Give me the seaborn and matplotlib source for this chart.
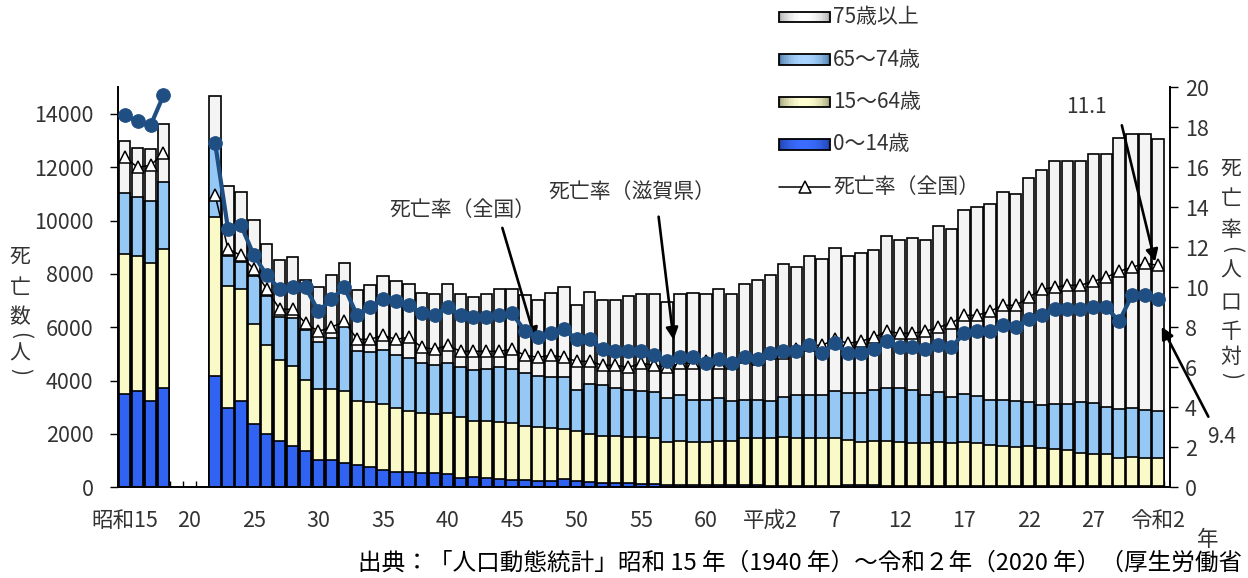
import matplotlib
matplotlib.use("Agg")
import matplotlib.pyplot as plt
import matplotlib.colors as mcolors
from matplotlib.patches import Rectangle
from matplotlib.lines import Line2D
import numpy as np
import pandas as pd
import seaborn as sns

# ---------------- data ----------------
years = [1940, 1941, 1942, 1943] + list(range(1947, 2021))

age_0_14 = [3480, 3620, 3240, 3710,
            4170, 2960, 3230, 2360, 1980, 1730, 1550, 1360, 1020, 1020, 920,
            840, 750, 650, 590, 560, 520, 520, 490, 340, 400, 340, 310, 270,
            270, 250, 250, 300, 250, 210, 170, 170, 150, 130, 110, 100, 100,
            100, 80, 100, 100, 80, 80, 50, 50, 50, 50, 50, 50, 80, 80, 80,
            40, 40, 40, 40, 40, 40, 40, 40, 40, 40, 40, 40, 40, 40, 40, 40,
            40, 40, 40, 40, 40, 40]
age_15_64 = [5280, 5050, 5170, 5220,
             5980, 4590, 4220, 3780, 3350, 3040, 2990, 2680, 2650, 2650, 2700,
             2410, 2460, 2460, 2370, 2310, 2250, 2230, 2280, 2280, 2100, 2160,
             2150, 2130, 2040, 2020, 1960, 1880, 1870, 1790, 1750, 1750, 1750,
             1740, 1720, 1610, 1630, 1610, 1630, 1630, 1630, 1750, 1750, 1780,
             1850, 1780, 1780, 1780, 1780, 1690, 1630, 1650, 1690, 1670, 1630,
             1630, 1670, 1630, 1650, 1630, 1540, 1510, 1480, 1510, 1440, 1390,
             1360, 1260, 1200, 1200, 1050, 1110, 1050, 1050]
age_65_74 = [2270, 2210, 2340, 2510,
             2650, 1110, 1000, 1770, 1830, 1620, 1820, 1850, 1780, 1930, 2460,
             1870, 1870, 2030, 1990, 1980, 1900, 1830, 1900, 1900, 1890, 1950,
             2060, 2050, 1960, 1900, 1930, 1960, 1520, 1870, 1910, 1820, 1740,
             1750, 1730, 1640, 1730, 1580, 1580, 1600, 1510, 1460, 1460, 1410,
             1490, 1630, 1630, 1630, 1790, 1750, 1810, 1910, 1980, 2000, 1970,
             1790, 1850, 1720, 1810, 1750, 1710, 1720, 1720, 1660, 1600, 1710,
             1740, 1910, 1930, 1780, 1830, 1810, 1810, 1780]
age_75_plus = [1970, 1850, 1940, 2190,
               1880, 2620, 2640, 2120, 1950, 2120, 2270, 1900, 2060, 2370, 2330,
               2270, 2520, 2770, 2780, 2760, 2620, 2680, 2940, 2720, 2750, 2810,
               2930, 3000, 2930, 2840, 3150, 3370, 3180, 3450, 3210, 3270, 3520,
               3640, 3680, 3600, 3780, 4000, 3950, 4120, 4020, 4320, 4500, 4710,
               4970, 4800, 5200, 5110, 5360, 5140, 5260, 5240, 5700, 5550, 5720,
               5820, 6220, 6290, 6880, 7080, 7340, 7800, 7740, 8390, 8820, 9090,
               9090, 9040, 9310, 9460, 10180, 10290, 10350, 10190]
rate_shiga = [18.6, 18.3, 18.1, 19.6,
              17.2, 12.9, 13.1, 11.6, 10.6, 9.9, 10.0, 10.0, 8.8, 9.4, 10.0,
              8.6, 9.0, 9.4, 9.3, 9.1, 8.7, 8.6, 9.0, 8.6, 8.5, 8.5, 8.6, 8.7,
              7.8, 7.5, 7.7, 7.9, 7.4, 7.4, 6.9, 6.8, 6.8, 6.8, 6.6, 6.3, 6.5,
              6.5, 6.2, 6.4, 6.2, 6.5, 6.4, 6.7, 6.8, 6.8, 7.1, 6.7, 7.2, 6.7,
              6.7, 6.9, 7.3, 7.0, 7.0, 6.9, 7.1, 7.0, 7.7, 7.8, 7.8, 8.1, 8.0,
              8.4, 8.6, 8.9, 8.9, 8.9, 9.0, 9.0, 8.3, 9.6, 9.6, 9.4]
rate_national = [16.5, 16.0, 16.1, 16.7,
                 14.6, 11.9, 11.6, 10.9, 9.9, 8.9, 8.9, 8.2, 7.8, 8.0, 8.3,
                 7.4, 7.4, 7.6, 7.4, 7.5, 7.0, 6.9, 7.1, 6.8, 6.8, 6.8, 6.8, 6.9,
                 6.6, 6.5, 6.6, 6.5, 6.3, 6.3, 6.1, 6.1, 6.0, 6.2, 6.1, 6.0, 6.2,
                 6.2, 6.3, 6.2, 6.2, 6.5, 6.4, 6.7, 6.7, 6.9, 7.1, 7.1, 7.4, 7.2,
                 7.3, 7.5, 7.8, 7.7, 7.7, 7.8, 8.0, 8.2, 8.6, 8.6, 8.8, 9.1, 9.1,
                 9.5, 9.9, 10.0, 10.1, 10.1, 10.3, 10.5, 10.8, 11.0, 11.2, 11.1]

tick_years = [1940, 1945, 1950, 1955, 1960, 1965, 1970, 1975, 1980, 1985,
              1990, 1995, 2000, 2005, 2010, 2015, 2020]
tick_labels = ["昭和15", "20", "25", "30", "35", "40", "45", "50", "55", "60",
               "平成2", "7", "12", "17", "22", "27", "令和2"]
legend_labels = ["75歳以上", "65～74歳", "15～64歳", "0～14歳", "死亡率（全国）"]

# ---------------- style ----------------
sns.set_theme(style="white")
plt.rcParams["font.family"] = ["Noto Sans CJK JP", "DejaVu Sans"]

W, H = 1248, 578
TXT = "#333333"
C0, C15, C65, C75 = "#3163F2", "#FAFAC8", "#96C8F5", "#F4F4F4"
SHIGA = "#1F4E82"

df = pd.DataFrame({
    "year": years,
    "a0": age_0_14, "a15": age_15_64, "a65": age_65_74, "a75": age_75_plus,
    "shiga": rate_shiga, "national": rate_national,
})
df["period"] = np.where(df["year"] < 1945, "pre", "post")
df["c1"] = df["a0"]
df["c2"] = df["c1"] + df["a15"]
df["c3"] = df["c2"] + df["a65"]
df["c4"] = df["c3"] + df["a75"]

fig = plt.figure(figsize=(W / 100, H / 100), dpi=100)
ax = fig.add_axes([118.3 / W, 1 - 487.3 / H, (1170 - 118.3) / W, 400 / H])

for col, color in [("c4", C75), ("c3", C65), ("c2", C15), ("c1", C0)]:
    sns.barplot(data=df, x="year", y=col, native_scale=True, width=0.88,
                color=color, saturation=1, edgecolor="black", linewidth=1.2,
                errorbar=None, ax=ax)

ax2 = ax.twinx()
sns.lineplot(data=df, x="year", y="national", units="period", estimator=None,
             color="black", lw=1.1, marker="^", markersize=8,
             markerfacecolor="white", markeredgecolor="black",
             markeredgewidth=1.1, legend=False, ax=ax2, zorder=3)
sns.lineplot(data=df, x="year", y="shiga", units="period", estimator=None,
             color=SHIGA, lw=3, marker="o", markersize=9.8,
             markeredgecolor=SHIGA, legend=False, ax=ax2, zorder=4)

# ---------------- axes ----------------
ax.set_xlim(1939.54, 2020.94)
ax.set_ylim(0, 15000)
ax2.set_ylim(0, 20)
for a in (ax, ax2):
    a.set_xlabel("")
    a.set_ylabel("")
    a.grid(False)

ax.set_yticks(range(0, 14001, 2000))
ax2.set_yticks(range(0, 21, 2))
ax.set_xticks(tick_years)
ax.set_xticklabels(tick_labels)
ax.set_xticks(np.arange(1939.5, 2021, 1), minor=True)

ax.tick_params(axis="y", left=True, direction="out", length=5.8, width=1,
               color="black", pad=12, labelsize=15.5, labelcolor=TXT)
ax2.tick_params(axis="y", right=True, direction="out", length=5.8, width=1,
                color="black", pad=5, labelsize=15.5, labelcolor=TXT)
ax.tick_params(axis="x", which="major", bottom=True, length=0, pad=16,
               labelsize=15.5, labelcolor=TXT)
ax.tick_params(axis="x", which="minor", bottom=True, direction="in",
               length=4, width=1, color="black")

for name, sp in ax.spines.items():
    sp.set_visible(name in ("left", "bottom"))
    sp.set_color("black")
    sp.set_linewidth(1.4)
for name, sp in ax2.spines.items():
    sp.set_visible(name == "right")
    sp.set_color("black")
    sp.set_linewidth(1.4)

# ---------------- annotations ----------------
arrow = dict(arrowstyle="-|>", color="black", lw=1.9, mutation_scale=18,
             shrinkA=0, shrinkB=0)
ax2.text(1966.14, 13.87, "死亡率（全国）", ha="center", va="center",
         fontsize=15, color=TXT)
ax2.annotate("", xy=(1971.8, 7.37), xytext=(1969.24, 12.97), arrowprops=arrow)
ax2.text(1979.31, 14.77, "死亡率（滋賀県）", ha="center", va="center",
         fontsize=15, color=TXT)
ax2.annotate("", xy=(1982.5, 7.37), xytext=(1981.34, 13.53), arrowprops=arrow)
ax2.text(2014.47, 19.02, "11.1", ha="center", va="center", fontsize=15,
         color=TXT, clip_on=False)
ax2.annotate("", xy=(2019.78, 11.28), xytext=(2017.21, 18.1), arrowprops=arrow,
             annotation_clip=False)
ax2.text(2024.97, 2.52, "9.4", ha="center", va="center", fontsize=15,
         color=TXT, clip_on=False)
ax2.annotate("", xy=(2020.3, 8.03), xytext=(2023.91, 3.53), arrowprops=arrow,
             annotation_clip=False)

# ---------------- vertical axis titles ----------------
def vtext(xp, items):
    for ch, yp in items:
        if ch in "()":
            fig.text(xp / W, 1 - yp / H, ch, rotation=-90, ha="center",
                     va="center", fontsize=15, color=TXT)
        else:
            fig.text(xp / W, 1 - yp / H, ch, ha="center", va="center",
                     fontsize=15, color=TXT)

vtext(20, [("死", 257), ("亡", 288), ("数", 317), ("(", 336), ("人", 354),
           (")", 372)])
vtext(1231, [("死", 169), ("亡", 199), ("率", 230), ("(", 250), ("人", 271),
             ("口", 303), ("千", 332), ("対", 357), (")", 376)])

fig.text(1208 / W, 1 - 540 / H, "年", ha="center", va="center", fontsize=15.5,
         color=TXT)
fig.text(358 / W, 1 - 563 / H,
         "出典：「人口動態統計」昭和 15 年（1940 年）～令和２年（2020 年）（厚生労働省",
         ha="left", va="center", fontsize=17, color="black")

# ---------------- legend ----------------
grad = [("#9C9C9C", "#FFFFFF"), ("#3E6A98", "#A8D4FF"),
        ("#8C8C64", "#FFFFD2"), ("#1A3A99", "#3A6CFF")]
x0, wpx, hpx = 779, 51, 10
for i, lab in enumerate(legend_labels):
    yc = 17 + 42.5 * i
    if i < 4:
        ce = np.array(mcolors.to_rgb(grad[i][0]))
        cm = np.array(mcolors.to_rgb(grad[i][1]))
        n = 30
        for k in range(n):
            t = (k + 0.5) / n
            f = np.sin(np.pi * t) ** 0.6
            c = (1 - f) * ce + f * cm
            fig.add_artist(Rectangle(((x0 + wpx * k / n) / W, 1 - (yc + hpx / 2) / H),
                                     (wpx / n + 0.3) / W, hpx / H,
                                     transform=fig.transFigure, facecolor=c,
                                     edgecolor="none"))
        fig.add_artist(Rectangle((x0 / W, 1 - (yc + hpx / 2) / H), wpx / W,
                                 hpx / H, transform=fig.transFigure,
                                 facecolor="none", edgecolor="black", lw=1.3))
    else:
        fig.add_artist(Line2D([x0 / W, (x0 + wpx) / W], [1 - yc / H] * 2,
                              transform=fig.transFigure, color="black", lw=1.1))
        fig.add_artist(Line2D([(x0 + wpx / 2) / W], [1 - yc / H],
                              transform=fig.transFigure, marker="^",
                              markersize=8, markerfacecolor="white",
                              markeredgecolor="black", markeredgewidth=1.1))
    fig.text(833 / W, 1 - yc / H, lab, ha="left", va="center", fontsize=15,
             color=TXT)

fig.savefig("out.png", dpi=100, facecolor="white")
